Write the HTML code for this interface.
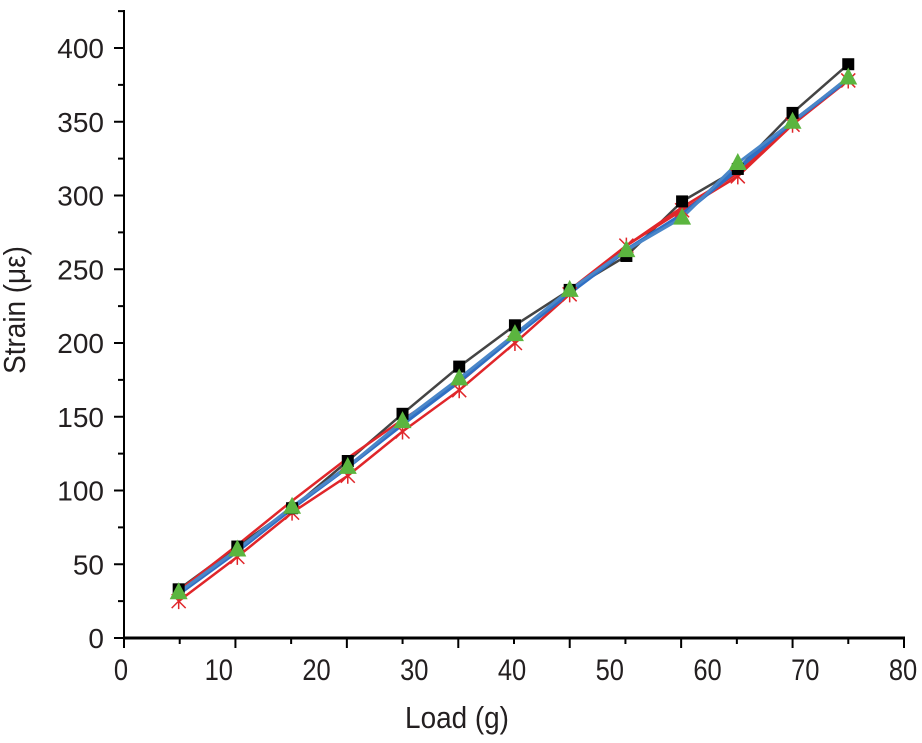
<!DOCTYPE html>
<html><head><meta charset="utf-8"><style>
body{margin:0;background:#fff}
svg text{font-family:"Liberation Sans",Arial,sans-serif;fill:#231f20}
</style></head><body>
<svg id="chart" width="922" height="738" viewBox="0 0 922 738" xmlns="http://www.w3.org/2000/svg">
<g id="axes"></g>
<g id="series"></g>
<text transform="translate(457,728) scale(0.9,1)" font-size="31" text-anchor="middle">Load (g)</text>
<text transform="translate(25,310) rotate(-90) scale(0.9,1)" font-size="31" text-anchor="middle">Strain (με)</text>
</svg>
<script>
const loads=[5.9,11.9,17.5,23.2,28.8,34.6,40.3,45.9,51.7,57.4,63.1,68.7,74.4];
const seriesBlack=[33,62,88,120,152,184,212,236,259,296,318,356,389];
const seriesRed=[25,55,85,110,140,168,200,233,266,290,313,348,378];
const seriesRed2=[32,63,93,122,148,173,205,236,266,292,315,350,380];
const seriesBlue=[30,59,88,116,145,174,205,234,263,287,318,350,379];
const seriesGreen=[31,60,89,116,147,176,206,236,263,285,322,350,380];
const xTickLabels=[0,10,20,30,40,50,60,70,80];
const yTickLabels=[0,50,100,150,200,250,300,350,400];

const NS="http://www.w3.org/2000/svg";
function X(v){return 121+v*(903-121)/80;}
function Y(v){return 638-v*(638-48)/400;}
function mk(tag,attrs,parent){const e=document.createElementNS(NS,tag);for(const k in attrs)e.setAttribute(k,attrs[k]);parent.appendChild(e);return e;}
const ax=document.getElementById('axes');
let l=mk('line',{x1:124,y1:638,x2:905,y2:638,stroke:'#000','stroke-width':3},ax);


l=mk('line',{x1:124,y1:10,x2:124,y2:640,stroke:'#000','stroke-width':2},ax);


for(let i=0;i<=14;i++){const px=124+i*(904-124)/14;
 const t=mk('line',{x1:px,y1:638,x2:px,y2:i%2?644:648,stroke:'#000','stroke-width':2},ax);
 
 }
xTickLabels.forEach(v=>{const t=mk('text',{transform:`translate(${X(v)},680) scale(0.85,1)`,'font-size':30,'text-anchor':'middle'},ax);t.textContent=v;
 
 });
for(let v=0;v<=425;v+=25){const py=Y(v);if(py<10)break;
 const t=mk('line',{x1:v%50?118:114,y1:py,x2:124,y2:py,stroke:'#000','stroke-width':2},ax);
 
 }
yTickLabels.forEach(v=>{const t=mk('text',{x:104,y:Y(v)+10,'font-size':28,'text-anchor':'end'},ax);t.textContent=v;
 
 });

const sg=document.getElementById('series');
function drawLine(vals,color,name,w){
 const p=mk('polyline',{points:vals.map((v,i)=>X(loads[i])+','+Y(v)).join(' '),fill:'none',stroke:color,'stroke-width':w},sg);
 
 }
drawLine(seriesBlack,'#444','series-black-line',2.5);
drawLine(seriesRed,'#e0262a','series-red-line',2.5);
drawLine(seriesRed2,'#e0262a','series-red2-line',2.5);
drawLine(seriesBlue,'#2f6fc4','series-blue-line',4);
drawLine(seriesGreen,'#4a86c8','series-green-line',3);
seriesRed.forEach((v,i)=>{const g=mk('g',{},sg);
 
 
 const x=X(loads[i]),y=Y(v);
 mk('path',{d:`M${x-7},${y-7}L${x+7},${y+7}M${x+7},${y-7}L${x-7},${y+7}M${x},${y-8}L${x},${y+8}`,stroke:'#e0262a','stroke-width':1.5},g);});
seriesBlack.forEach((v,i)=>{const r=mk('rect',{x:X(loads[i])-6,y:Y(v)-6,width:12,height:12,fill:'#000'},sg);
 
 });
seriesGreen.forEach((v,i)=>{const x=X(loads[i]),y=Y(v);
 const p=mk('polygon',{points:`${x},${y-10} ${x+9},${y+7} ${x-9},${y+7}`,fill:'#5bb53f'},sg);
 
 });
</script>
</body></html>
